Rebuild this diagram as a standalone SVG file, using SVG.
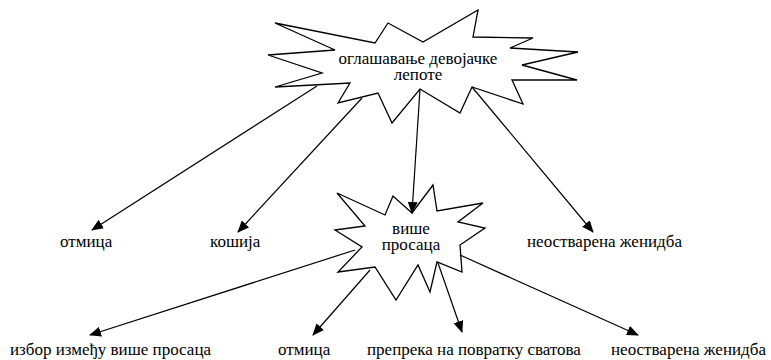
<svg xmlns="http://www.w3.org/2000/svg" width="771" height="360" viewBox="0 0 771 360">
<defs>
<marker id="ah" viewBox="0 0 12 10" refX="11" refY="5" markerWidth="12" markerHeight="10" markerUnits="userSpaceOnUse" orient="auto">
<path d="M0,0 L12,5 L0,10 z" fill="#000"/>
</marker>
</defs>
<rect width="771" height="360" fill="#fff"/>
<g id="n-top">
<polygon fill="#fff" stroke="#000" stroke-width="1.3" points="275,23 375,43 388,23 423,42 478,10 473,37 533,38 510,48 578,52 522,65 577,80 512,80 523,104 472,87 460,113 420,89 392,123 378,93 338,103 350,83 275,87 322,73 268,55 335,50"/>
<text font-family="Liberation Serif, serif" font-size="17" text-anchor="middle" x="418" y="64">оглашавање девојачке</text>
<text font-family="Liberation Serif, serif" font-size="17" text-anchor="middle" x="418" y="80">лепоте</text>
</g>
<g id="n-mid">
<polygon fill="#fff" stroke="#000" stroke-width="1.3" points="337,193 385,215 393,196 412,213 433,185 437,211 483,203 458,222 485,228 460,245 462,272 437,262 430,292 418,265 396,300 375,267 338,272 362,247 335,230 365,226"/>
<text font-family="Liberation Serif, serif" font-size="17" text-anchor="middle" x="411" y="234">више</text>
<text font-family="Liberation Serif, serif" font-size="17" text-anchor="middle" x="411" y="250">просаца</text>
</g>
<g id="n-otmica1"><text font-family="Liberation Serif, serif" font-size="17" x="60" y="247">отмица</text></g>
<g id="n-kosija"><text font-family="Liberation Serif, serif" font-size="17" x="210" y="247">кошија</text></g>
<g id="n-neostv1"><text font-family="Liberation Serif, serif" font-size="17" x="527" y="247">неостварена женидба</text></g>
<g id="n-izbor"><text font-family="Liberation Serif, serif" font-size="17" x="10" y="355">избор између више просаца</text></g>
<g id="n-otmica2"><text font-family="Liberation Serif, serif" font-size="17" x="278" y="355">отмица</text></g>
<g id="n-prepreka"><text font-family="Liberation Serif, serif" font-size="17" x="367" y="355">препрека на повратку сватова</text></g>
<g id="n-neostv2"><text font-family="Liberation Serif, serif" font-size="17" x="611" y="355">неостварена женидба</text></g>
<g id="edges" stroke="#000" stroke-width="1.2" fill="none" marker-end="url(#ah)">
<line x1="317" y1="86" x2="92" y2="230"/>
<line x1="362" y1="98" x2="238" y2="232"/>
<line x1="420" y1="89" x2="412" y2="213"/>
<line x1="472" y1="87" x2="593" y2="232"/>
<line x1="355" y1="250" x2="90" y2="335"/>
<line x1="370" y1="270" x2="313" y2="335"/>
<line x1="438" y1="263" x2="462" y2="332"/>
<line x1="460" y1="255" x2="638" y2="335"/>
</g>
</svg>
